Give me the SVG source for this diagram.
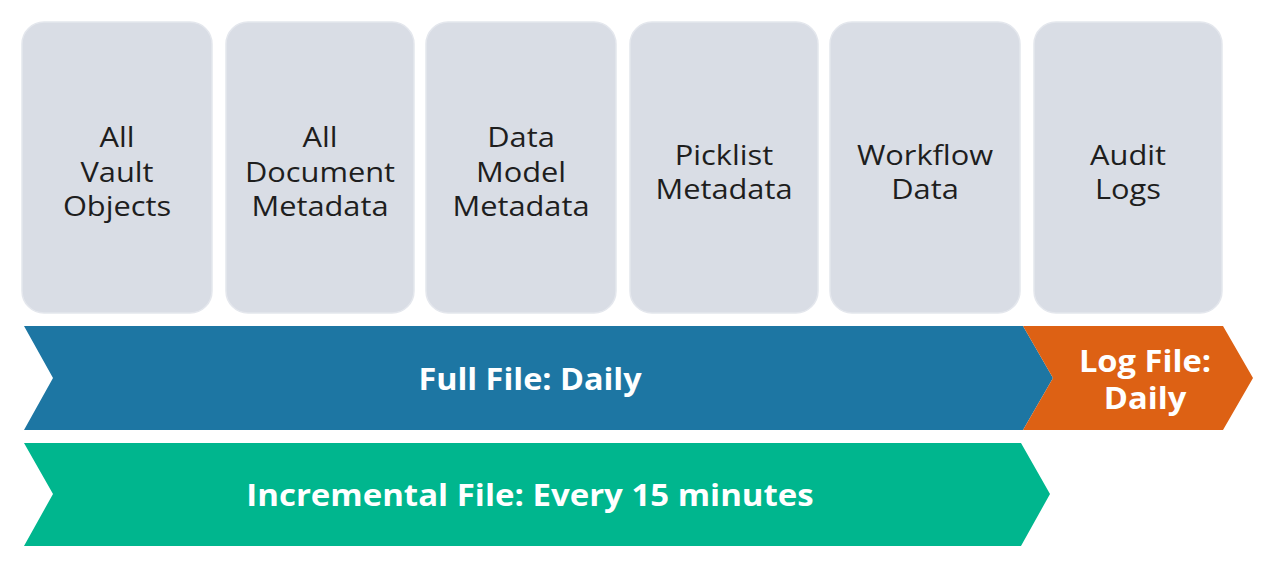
<svg xmlns="http://www.w3.org/2000/svg" width="1269" height="565" viewBox="0 0 1269 565">
<style>
.box{fill:#d9dde5;stroke:#e4e7ed;stroke-width:1.5}
.lbl{font-family:"Open Sans","Noto Sans",sans-serif;font-size:28px;fill:#1e1e1e;text-anchor:middle}
.band{font-family:"Open Sans","Noto Sans",sans-serif;font-size:31px;font-weight:bold;fill:#ffffff;text-anchor:middle}
</style>
<rect width="1269" height="565" fill="#ffffff"/>
<g id="node-vault-objects">
<rect class="box" x="22" y="22" width="190" height="291" rx="22"/>
<g transform="translate(117 0) scale(1.1 1)">
<text class="lbl" x="0" y="147">All</text>
<text class="lbl" x="0" y="182">Vault</text>
<text class="lbl" x="0" y="216">Objects</text>
</g>
</g>
<g id="node-document-metadata">
<rect class="box" x="226" y="22" width="188" height="291" rx="22"/>
<g transform="translate(320 0) scale(1.1 1)">
<text class="lbl" x="0" y="147">All</text>
<text class="lbl" x="0" y="182">Document</text>
<text class="lbl" x="0" y="216">Metadata</text>
</g>
</g>
<g id="node-data-model">
<rect class="box" x="426" y="22" width="190" height="291" rx="22"/>
<g transform="translate(521 0) scale(1.1 1)">
<text class="lbl" x="0" y="147">Data</text>
<text class="lbl" x="0" y="182">Model</text>
<text class="lbl" x="0" y="216">Metadata</text>
</g>
</g>
<g id="node-picklist">
<rect class="box" x="630" y="22" width="188" height="291" rx="22"/>
<g transform="translate(724 0) scale(1.1 1)">
<text class="lbl" x="0" y="165">Picklist</text>
<text class="lbl" x="0" y="199">Metadata</text>
</g>
</g>
<g id="node-workflow">
<rect class="box" x="830" y="22" width="190" height="291" rx="22"/>
<g transform="translate(925 0) scale(1.1 1)">
<text class="lbl" x="0" y="165">Workflow</text>
<text class="lbl" x="0" y="199">Data</text>
</g>
</g>
<g id="node-audit">
<rect class="box" x="1034" y="22" width="188" height="291" rx="22"/>
<g transform="translate(1128 0) scale(1.1 1)">
<text class="lbl" x="0" y="165">Audit</text>
<text class="lbl" x="0" y="199">Logs</text>
</g>
</g>
<g id="node-full-file">
<polygon points="24,326 1023,326 1053,378 1023,430 24,430 53,378" fill="#1d76a3"/>
<g transform="translate(530 0) scale(1.045 1)">
<text class="band" x="0" y="390">Full File: Daily</text>
</g>
</g>
<g id="node-log-file">
<polygon points="1023,326 1223,326 1253,378 1223,430 1023,430 1053,378" fill="#dd6114"/>
<g transform="translate(1145 0) scale(1.055 1)">
<text class="band" x="0" y="372">Log File:</text>
<text class="band" x="0" y="409">Daily</text>
</g>
</g>
<g id="node-incremental">
<polygon points="24,443 1021,443 1050,494 1021,546 24,546 53,494" fill="#00b68e"/>
<g transform="translate(530 0) scale(1.064 1)">
<text class="band" x="0" y="506">Incremental File: Every 15 minutes</text>
</g>
</g>
<g id="connectors"></g>
</svg>
